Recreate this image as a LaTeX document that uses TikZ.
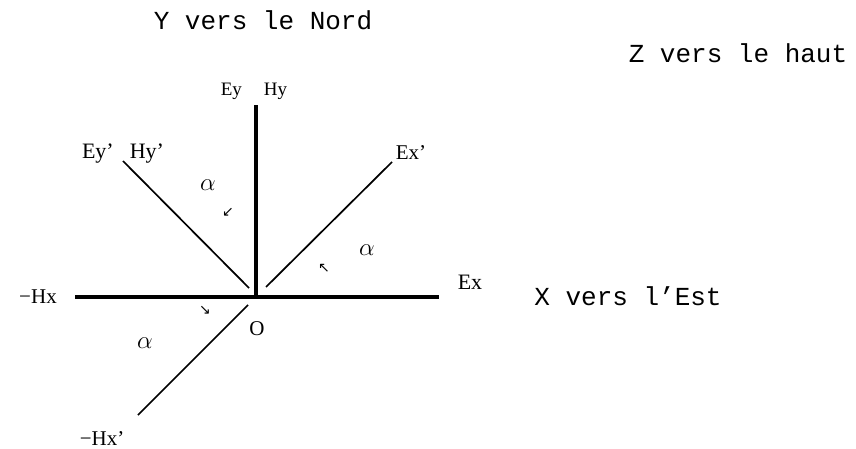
\documentclass[tikz,border=0pt]{standalone}
\usepackage{fontspec}
\setmainfont{Liberation Serif}
\newfontfamily\monofnt{Liberation Mono}
\newfontfamily\symfnt{DejaVu Sans}
\begin{document}
\begin{tikzpicture}[x=1pt,y=-1pt,
  axis/.style={line width=4pt},
  rotline/.style={line width=1.7pt},
  monolabel/.style={font=\monofnt\fontsize{26}{30}\selectfont, anchor=base, inner sep=0pt},
  lbl/.style={font=\fontsize{21}{24}\selectfont, anchor=base, inner sep=0pt},
  greek/.style={font=\fontsize{27}{30}\selectfont, inner sep=0pt},
  tinyarrow/.style={font=\symfnt\fontsize{14}{16}\selectfont, inner sep=0pt}]
\useasboundingbox (0,0) rectangle (856,449);
% axes
\coordinate (O) at (256,297);
\coordinate (hxend) at (75,297);
\coordinate (exend) at (439,297);
\coordinate (eyend) at (256,105);
\draw[axis] (hxend) -- (exend);
\draw[axis] (O) -- (eyend);
% rotated axes
\coordinate (eyp1) at (123,161);
\coordinate (eyp2) at (249,288);
\coordinate (exp1) at (266,287);
\coordinate (exp2) at (392,162);
\coordinate (hxp1) at (248,305);
\coordinate (hxp2) at (138,415);
\draw[rotline] (eyp1) -- (eyp2);
\draw[rotline] (exp1) -- (exp2);
\draw[rotline] (hxp1) -- (hxp2);
% mono labels
\node[monolabel] (ynord) at (263,30) {Y vers le Nord};
\node[monolabel] (zhaut) at (738,63) {Z vers le haut};
\node[monolabel] (xest) at (628,305) {X vers l’Est};
% axis labels
\node[lbl, font=\fontsize{19}{22}\selectfont] (eyhy) at (254,96) {Ey\hspace{22pt}Hy};
\node[lbl, font=\fontsize{22}{24}\selectfont] (eyphyp) at (123,159) {Ey’\hspace{16pt}Hy’};
\node[lbl] (exp) at (411,160) {Ex’};
\node[lbl, font=\fontsize{22}{24}\selectfont] (ex) at (470,289) {Ex};
\node[lbl] (mhx) at (38,303) {−Hx};
\node[lbl] (olbl) at (257,335) {O};
\node[lbl] (mhxp) at (102,445) {−Hx’};
% alpha
\node[greek] (a1) at (208,185) {$\alpha$};
\node[greek] (a2) at (367,250) {$\alpha$};
\node[greek] (a3) at (145,343) {$\alpha$};
% small arrows
\node[tinyarrow] (r1) at (228,212) {↙};
\node[tinyarrow] (r2) at (324,268) {↖};
\node[tinyarrow] (r3) at (205,310) {↘};
\end{tikzpicture}
\end{document}
